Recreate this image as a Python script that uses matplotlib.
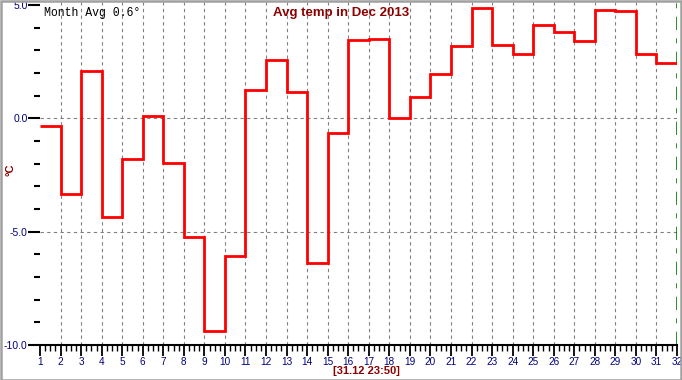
# Daily average temperature, December 2013 - step chart
import matplotlib
matplotlib.use("Agg")
import matplotlib.pyplot as plt
from matplotlib.patches import Rectangle
from matplotlib.ticker import MultipleLocator
import numpy as np

# ---- data -----------------------------------------------------
days = list(range(1, 32))
avg_temp = [-0.35, -3.33, 2.07, -4.35, -1.79, 0.10, -1.97, -5.24, -9.37, -6.07,
            1.23, 2.57, 1.18, -6.39, -0.66, 3.44, 3.49, 0.01, 0.93, 1.95,
            3.19, 4.88, 3.23, 2.86, 4.10, 3.80, 3.41, 4.76, 4.73, 2.83, 2.44]
y_major = [5.0, 0.0, -5.0, -10.0]
x_labels = [str(d) for d in range(1, 33)]

title_text = "Avg temp in Dec 2013"
month_avg = "Month Avg 0.6°"
stamp_text = "[31.12 23:50]"

NAVY = "#000080"
DARKRED = "#8B0000"

# ---- figure ---------------------------------------------------
W, H, DPI = 682, 380, 100
fig = plt.figure(figsize=(W / DPI, H / DPI), dpi=DPI)
fig.patch.set_facecolor("white")

# axes box in pixels: x 40..677, y(-10)=345, y(5)=5
px_per_deg = (345 - 5) / 15.0
top_val = 5 + 3 / px_per_deg
ax = fig.add_axes([40 / W, (H - 345) / H, (677 - 40) / W, (345 - 2) / H])
ax.set_xlim(1, 32)
ax.set_ylim(-10, top_val)
ax.set_facecolor("white")

for s in ["top", "right", "left"]:
    ax.spines[s].set_visible(False)
ax.spines["bottom"].set_linewidth(1.5)
ax.spines["bottom"].set_color("black")

# grid lines (drawn by hand so only inner ones show)
for d in range(2, 32):
    ax.axvline(d, color="#808080", lw=0.8, ls=(0, (3, 3)), zorder=1)
for v in [0.0, -5.0]:
    ax.axhline(v, color="#808080", lw=0.8, ls=(0, (3, 3)), zorder=1)
ax.axvline(32, color="#008000", lw=1.2, ls=(0, (8, 5, 3, 5)), zorder=2)

# temperature steps
edges = days + [32]
ax.stairs(avg_temp, edges, baseline=None, color="#FF0000", lw=2.0, zorder=3)

# ticks
ax.set_yticks(y_major)
ax.set_yticklabels([f"{v:.1f}" for v in y_major])
ax.yaxis.set_minor_locator(MultipleLocator(1.0))
ax.set_xticks(range(1, 33))
ax.set_xticklabels(x_labels)
ax.xaxis.set_minor_locator(MultipleLocator(0.25))

ax.tick_params(axis="y", which="major", direction="out", length=9, width=1.5,
               color="black", labelcolor=NAVY, labelsize=7.5, pad=0)
ax.tick_params(axis="y", which="minor", direction="out", length=4, width=1.5,
               color="black")
ax.tick_params(axis="x", which="major", direction="out", length=8, width=1.3,
               color="black", labelcolor=NAVY, labelsize=7.2, pad=0.5)
ax.tick_params(axis="x", which="minor", direction="out", length=4, width=1.0,
               color="black")
for lab in ax.get_xticklabels() + ax.get_yticklabels():
    lab.set_family("Liberation Sans")

# texts
fig.text(341 / W, 1 - 13 / H, title_text, ha="center", va="center",
         color=DARKRED, fontsize=9.5, fontweight="bold", family="Liberation Sans")
fig.text(44 / W, 1 - 13 / H, month_avg, ha="left", va="center",
         color="black", fontsize=8.3, family="Liberation Mono")
fig.text(10 / W, 1 - 170 / H, "°C", ha="center", va="center", rotation=90,
         color=DARKRED, fontsize=8, fontweight="bold", family="Liberation Sans")
fig.text(366 / W, 1 - 376 / H, stamp_text, ha="center", va="bottom",
         color=DARKRED, fontsize=8, fontweight="bold", family="Liberation Sans")

# window-style border
fig.patches.append(Rectangle((0.5 / W, 0.5 / H), 1 - 1.5 / W, 1 - 1.5 / H,
                             transform=fig.transFigure, fill=False,
                             edgecolor="#a0a0a0", lw=1.8, zorder=10))

fig.savefig("out.png", dpi=DPI, facecolor="white")
